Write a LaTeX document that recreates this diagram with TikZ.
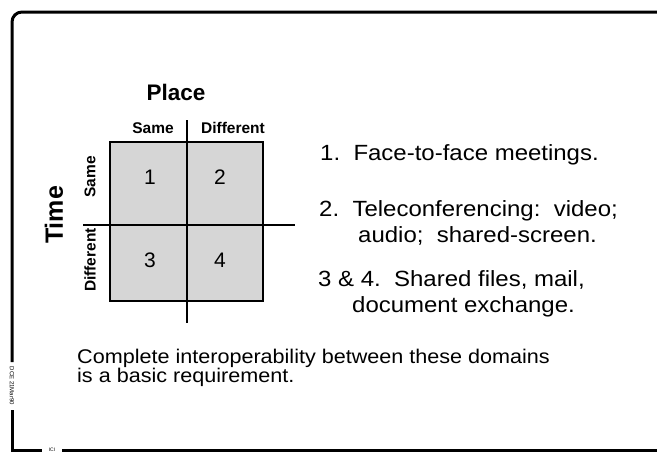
\documentclass[tikz,border=0pt]{standalone}
\usepackage{fontspec}
\setmainfont{Liberation Sans}
\newfontfamily\widesans[FakeStretch=1.09]{Liberation Sans}
\begin{document}
\begin{tikzpicture}[x=1pt,y=-1pt,
  frame/.style={line width=3pt,line cap=butt},
  grid/.style={line width=2.4pt},
  lab/.style={font=\bfseries\fontsize{15.5}{17}\selectfont,inner sep=0pt},
  num/.style={font=\fontsize{21}{22}\selectfont,inner sep=0pt},
  item/.style={font=\widesans\fontsize{22}{26}\selectfont,inner sep=0pt,anchor=west,align=left},
  cell/.style={fill=black!16}]
\useasboundingbox (0,0) rectangle (657,455);
% frame
\draw[frame] (12,362) -- (12,22) to[out=90,in=180] (22,12) -- (657,12);
\draw[frame] (12,410) -- (12,450) -- (42,450);
\draw[frame] (62,450) -- (657,450);
\node[rotate=-90,font=\fontsize{6}{7}\selectfont,inner sep=0pt] (dce) at (12,386) {DCE 21Mar90};
\node[font=\fontsize{5}{6}\selectfont,inner sep=0pt] (ici) at (52,450) {ICI};
% grid
\fill[cell] (110,142) rectangle (263,301);
\draw[grid] (110,142) rectangle (263,301);
\coordinate (vt) at (187,120);
\coordinate (vb) at (187,323);
\coordinate (hl) at (83,225);
\coordinate (hr) at (295,225);
\draw[grid] (vt) -- (vb);
\draw[grid] (hl) -- (hr);
\node[font=\bfseries\fontsize{22.5}{24}\selectfont,inner sep=0pt] (place) at (176,92) {Place};
\node[lab] (psame) at (153,128) {Same};
\node[lab] (pdiff) at (233,128) {Different};
\node[font=\bfseries\fontsize{25}{26}\selectfont,rotate=90,inner sep=0pt] (time) at (54,215) {Time};
\node[lab,rotate=90] (tsame) at (90,177) {Same};
\node[lab,rotate=90] (tdiff) at (90,260) {Different};
\node[num] (n1) at (150,177) {1};
\node[num] (n2) at (220,177) {2};
\node[num] (n3) at (150,260) {3};
\node[num] (n4) at (220,260) {4};
% items
\node[item] (i1) at (320,155) {1.\ \ Face-to-face meetings.};
\node[item] (i2) at (319,222.5) {2.\ \ Teleconferencing:\ \ video;\\\hspace{39pt}audio;\ \ shared-screen.};
\node[item] (i3) at (318,293.5) {3 \& 4.\ \ Shared files, mail,\\\hspace{34pt}document exchange.};
\node[font=\widesans\fontsize{19.8}{19}\selectfont,inner sep=0pt,anchor=west,align=left] (concl) at (77,368) {Complete interoperability between these domains\\is a basic requirement.};
\end{tikzpicture}
\end{document}
